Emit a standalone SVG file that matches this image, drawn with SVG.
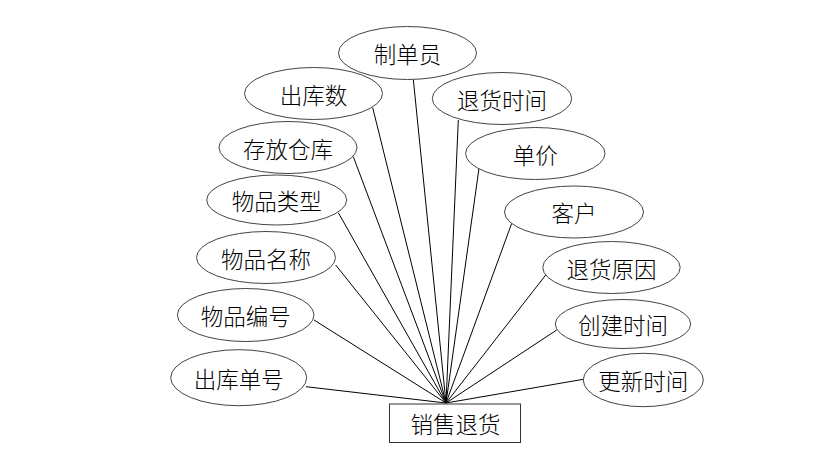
<svg xmlns="http://www.w3.org/2000/svg" width="815" height="460" viewBox="0 0 815 460">
<style>
.attr ellipse{fill:#fff;stroke:#444;stroke-width:1}
.ent rect{fill:#fff;stroke:#333;stroke-width:1}
text{font-family:"Noto Sans CJK SC","Noto Sans CJK JP",sans-serif;font-size:22.5px;font-weight:300;fill:#000;text-anchor:middle;dominant-baseline:central}
.conn line{stroke:#000;stroke-width:1}
</style>
<rect width="815" height="460" fill="#fff"/>
<g class="conn">
<line x1="413.3" y1="79.3" x2="446" y2="403"/>
<line x1="372.7" y1="107.7" x2="446" y2="403"/>
<line x1="353.3" y1="156.7" x2="446" y2="403"/>
<line x1="338.3" y1="212.7" x2="446" y2="403"/>
<line x1="335.7" y1="265" x2="446" y2="403"/>
<line x1="314" y1="320" x2="446" y2="403"/>
<line x1="306" y1="386.7" x2="446" y2="403"/>
<line x1="458.3" y1="120" x2="446" y2="403"/>
<line x1="479" y1="168.3" x2="446" y2="403"/>
<line x1="511.7" y1="223.3" x2="446" y2="403"/>
<line x1="545.7" y1="275" x2="446" y2="403"/>
<line x1="556.7" y1="330" x2="446" y2="403"/>
<line x1="583.3" y1="379.3" x2="446" y2="403"/>
</g>
<g id="n-zhidanyuan" class="attr"><ellipse cx="407.5" cy="53" rx="69" ry="26.5"/><text x="407.5" y="53">制单员</text></g>
<g id="n-chukushu" class="attr"><ellipse cx="313.5" cy="93.5" rx="69" ry="26"/><text x="313.5" y="93.5">出库数</text></g>
<g id="n-cunfangcangku" class="attr"><ellipse cx="288" cy="147.5" rx="69" ry="26"/><text x="288" y="147.5">存放仓库</text></g>
<g id="n-wupinleixing" class="attr"><ellipse cx="276.7" cy="200" rx="70" ry="25"/><text x="276.7" y="200">物品类型</text></g>
<g id="n-wupinmingcheng" class="attr"><ellipse cx="266" cy="257.5" rx="69.5" ry="26"/><text x="266" y="257.5">物品名称</text></g>
<g id="n-wupinbianhao" class="attr"><ellipse cx="245.7" cy="315" rx="68.3" ry="26.5"/><text x="245.7" y="315">物品编号</text></g>
<g id="n-chukudanhao" class="attr"><ellipse cx="238.7" cy="377.7" rx="68" ry="28"/><text x="238.7" y="377.7">出库单号</text></g>
<g id="n-tuihuoshijian" class="attr"><ellipse cx="502" cy="98.5" rx="69.7" ry="26"/><text x="502" y="98.5">退货时间</text></g>
<g id="n-danjia" class="attr"><ellipse cx="535.3" cy="153.5" rx="69.7" ry="26"/><text x="535.3" y="153.5">单价</text></g>
<g id="n-kehu" class="attr"><ellipse cx="574" cy="212" rx="69.5" ry="26"/><text x="574" y="212">客户</text></g>
<g id="n-tuihuoyuanyin" class="attr"><ellipse cx="611.5" cy="267.5" rx="68.7" ry="26"/><text x="611.5" y="267.5">退货原因</text></g>
<g id="n-chuangjianshijian" class="attr"><ellipse cx="623" cy="324" rx="67.7" ry="24.5"/><text x="623" y="324">创建时间</text></g>
<g id="n-gengxinshijian" class="attr"><ellipse cx="643.3" cy="380" rx="60" ry="26.7"/><text x="643.3" y="380">更新时间</text></g>
<g id="n-xiaoshoutuihuo" class="ent"><rect x="389.5" y="404" width="131" height="38.5"/><text x="455.5" y="423.3">销售退货</text></g>
</svg>
